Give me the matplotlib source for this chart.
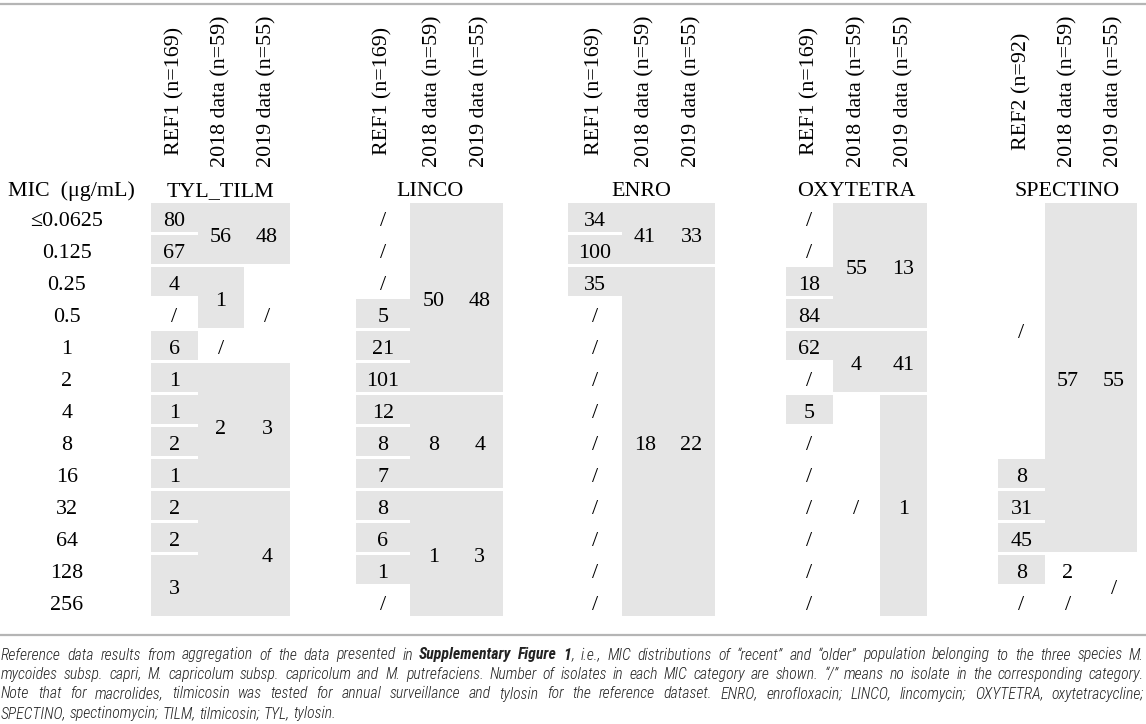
import matplotlib
matplotlib.use('Agg')
import matplotlib.pyplot as plt
from matplotlib.patches import Rectangle
from matplotlib import font_manager

# ---------------- data ----------------
mic_labels = ['≤0.0625', '0.125', '0.25', '0.5', '1', '2', '4', '8',
              '16', '32', '64', '128', '256']
drugs = ['TYL_TILM', 'LINCO', 'ENRO', 'OXYTETRA', 'SPECTINO']
col_headers = [
    ['REF1 (n=169)', '2018 data (n=59)', '2019 data (n=55)'],
    ['REF1 (n=169)', '2018 data (n=59)', '2019 data (n=55)'],
    ['REF1 (n=169)', '2018 data (n=59)', '2019 data (n=55)'],
    ['REF1 (n=169)', '2018 data (n=59)', '2019 data (n=55)'],
    ['REF2 (n=92)', '2018 data (n=59)', '2019 data (n=55)'],
]

# number of isolates per (merged) MIC category, with the number of MIC rows each covers
tyl_ref = ['80', '67', '4', '/', '6', '1', '1', '2', '1', '2', '2', '3']
tyl_ref_span = [1, 1, 1, 1, 1, 1, 1, 1, 1, 1, 1, 2]
tyl_2018 = ['56', '1', '/', '2', '']
tyl_2018_span = [2, 2, 1, 4, 4]
tyl_2019 = ['48', '/', '3', '4']
tyl_2019_span = [2, 3, 4, 4]

linco_ref = ['/', '/', '/', '5', '21', '101', '12', '8', '7', '8', '6', '1', '/']
linco_ref_span = [1, 1, 1, 1, 1, 1, 1, 1, 1, 1, 1, 1, 1]
linco_2018 = ['50', '8', '1']
linco_2018_span = [6, 3, 4]
linco_2019 = ['48', '4', '3']
linco_2019_span = [6, 3, 4]

enro_ref = ['34', '100', '35', '/', '/', '/', '/', '/', '/', '/', '/', '/', '/']
enro_ref_span = [1, 1, 1, 1, 1, 1, 1, 1, 1, 1, 1, 1, 1]
enro_2018 = ['41', '18']
enro_2018_span = [2, 11]
enro_2019 = ['33', '22']
enro_2019_span = [2, 11]

oxy_ref = ['/', '/', '18', '84', '62', '/', '5', '/', '/', '/', '/', '/', '/']
oxy_ref_span = [1, 1, 1, 1, 1, 1, 1, 1, 1, 1, 1, 1, 1]
oxy_2018 = ['55', '4', '/']
oxy_2018_span = [4, 2, 7]
oxy_2019 = ['13', '41', '1']
oxy_2019_span = [4, 2, 7]

spec_ref = ['/', '8', '31', '45', '8', '/']
spec_ref_span = [8, 1, 1, 1, 1, 1]
spec_2018 = ['57', '2', '/']
spec_2018_span = [11, 1, 1]
spec_2019 = ['55', '/']
spec_2019_span = [11, 2]

table_cols = [
    [(tyl_ref, tyl_ref_span), (tyl_2018, tyl_2018_span), (tyl_2019, tyl_2019_span)],
    [(linco_ref, linco_ref_span), (linco_2018, linco_2018_span), (linco_2019, linco_2019_span)],
    [(enro_ref, enro_ref_span), (enro_2018, enro_2018_span), (enro_2019, enro_2019_span)],
    [(oxy_ref, oxy_ref_span), (oxy_2018, oxy_2018_span), (oxy_2019, oxy_2019_span)],
    [(spec_ref, spec_ref_span), (spec_2018, spec_2018_span), (spec_2019, spec_2019_span)],
]

# cells holding a count but left unshaded in the figure: (drug index, column, entry index)
unshaded_cells = {(4, 1, 1)}

caption_lines = [
    "Reference data results from aggregation of the data presented in **Supplementary** **Figure** **1**, i.e., MIC distributions of “recent” and “older” population belonging to the three species M.",
    "mycoides subsp. capri, M. capricolum subsp. capricolum and M. putrefaciens. Number of isolates in each MIC category are shown. “/” means no isolate in the corresponding category.",
    "Note that for macrolides, tilmicosin was tested for annual surveillance and tylosin for the reference dataset. ENRO, enrofloxacin; LINCO, lincomycin; OXYTETRA, oxytetracycline;",
    "SPECTINO, spectinomycin; TILM, tilmicosin; TYL, tylosin.",
]
caption_justify = [True, True, True, False]

# ---------------- layout ----------------
W, H, DPI = 1146, 724, 100
col_edges = [[151, 198, 244, 290], [356, 410, 456.5, 503], [568, 622, 668, 715],
             [786, 833, 880, 927], [998, 1045, 1091, 1137]]
TABLE_TOP = 202.5
ROW_H = 32.04
GAP = 3.0
CELL_COLOR = '#e5e5e5'
RULE_COLOR = '#b5b5b5'
SERIF = ['Liberation Serif', 'DejaVu Serif']
FS = 15.8

fig = plt.figure(figsize=(W / DPI, H / DPI), dpi=DPI)
ax = fig.add_axes([0, 0, 1, 1])
ax.set_xlim(0, W)
ax.set_ylim(H, 0)
ax.axis('off')

# rules
ax.plot([0, W], [3.5, 3.5], color=RULE_COLOR, lw=1.6, solid_capstyle='butt')
ax.plot([0, W], [635, 635], color=RULE_COLOR, lw=1.6, solid_capstyle='butt')

# MIC header and row labels
ax.text(71, 196, 'MIC  (μg/mL)', family=SERIF, fontsize=FS, ha='center', va='baseline')
for i, lab in enumerate(mic_labels):
    yc = TABLE_TOP + (i + 0.5) * ROW_H
    ax.text(67, yc + 7.0, lab, family=SERIF, fontsize=FS, ha='center', va='baseline')

for g, drug in enumerate(drugs):
    edges = col_edges[g]
    ax.text((edges[0] + edges[3]) / 2, 196.5, drug, family=SERIF, fontsize=FS,
            ha='center', va='baseline')
    for c in range(3):
        x0, x1 = edges[c], edges[c + 1]
        xc = (x0 + x1) / 2
        ax.text(xc, 91, col_headers[g][c], family=SERIF, fontsize=FS, rotation=90,
                ha='center', va='center')
        vals, spans = table_cols[g][c]
        r = 0
        for k, (v, n) in enumerate(zip(vals, spans)):
            top = TABLE_TOP + r * ROW_H
            bot = TABLE_TOP + (r + n) * ROW_H
            if v != '/' and (g, c, k) not in unshaded_cells:
                ax.add_patch(Rectangle((x0, top), x1 - x0, bot - GAP - top,
                                       facecolor=CELL_COLOR, edgecolor='none', lw=0))
            ax.text(xc, (top + bot) / 2 + 7.0, v, family=SERIF, fontsize=FS,
                    ha='center', va='baseline')
            r += n

# ---------------- caption (justified) ----------------
names = {f.name for f in font_manager.fontManager.ttflist}
cap_family = 'Liberation Sans'
for cand in ['Liberation Sans Narrow', 'Roboto Condensed', 'Open Sans Condensed', 'Roboto']:
    if cand in names:
        cap_family = cand
        break
cap_weight_normal = 'light' if cap_family.startswith('Roboto') else 'normal'
renderer = fig.canvas.get_renderer()


def parse_word(tok):
    parts = tok.split('**')
    return [(p, i % 2 == 1) for i, p in enumerate(parts) if p]


def text_w(s, bold, fs):
    t = ax.text(0, 0, s, family=cap_family, style='italic',
                weight='bold' if bold else cap_weight_normal, fontsize=fs)
    w = t.get_window_extent(renderer).width
    t.remove()
    return w


def space_w(fs):
    return text_w('a a', False, fs) - text_w('aa', False, fs)


base_fs = 10.0
words_all = [[parse_word(t) for t in line.split(' ')] for line in caption_lines]


def line_natural(words, fs):
    tot = sum(sum(text_w(s, b, fs) for s, b in w) for w in words)
    return tot + space_w(fs) * (len(words) - 1)


max_nat = max(line_natural(w, base_fs) for w in words_all[:3])
cap_fs = min(11.3, base_fs * 1112.0 / max_nat)

X_LEFT, X_RIGHT = 1.0, 1144.0
baselines = [659.5, 679.0, 698.5, 718.0]
for words, just, yb in zip(words_all, caption_justify, baselines):
    widths = [[text_w(s, b, cap_fs) for s, b in w] for w in words]
    tot = sum(sum(ws) for ws in widths)
    if just and len(words) > 1:
        gap = (X_RIGHT - X_LEFT - tot) / (len(words) - 1)
    else:
        gap = space_w(cap_fs)
    x = X_LEFT
    for w, ws in zip(words, widths):
        for (s, b), wd in zip(w, ws):
            ax.text(x, yb, s, family=cap_family, style='italic',
                    weight='bold' if b else cap_weight_normal, fontsize=cap_fs,
                    ha='left', va='baseline', color='#222222')
            x += wd
        x += gap

fig.savefig('out.png', dpi=DPI)
